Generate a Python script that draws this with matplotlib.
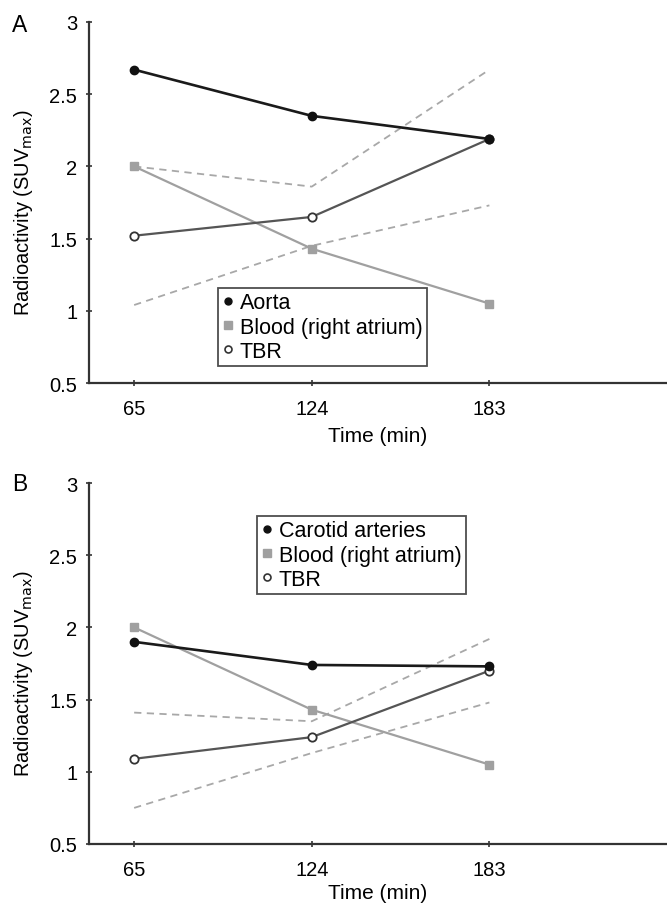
import matplotlib
matplotlib.use("Agg")
import matplotlib.pyplot as plt
from matplotlib.lines import Line2D

plt.rcParams['font.family'] = ['Liberation Sans', 'DejaVu Sans']

times = [65, 124, 183]
time_labels = ['65', '124', '183']

# Panel A
aorta = [2.67, 2.35, 2.19]
blood_a = [2.00, 1.43, 1.05]
tbr_a = [1.52, 1.65, 2.19]
dash_upper_a = [2.00, 1.86, 2.67]
dash_lower_a = [1.04, 1.45, 1.73]

# Panel B
carotid = [1.90, 1.74, 1.73]
blood_b = [2.00, 1.43, 1.05]
tbr_b = [1.09, 1.24, 1.70]
dash_upper_b = [1.41, 1.35, 1.92]
dash_lower_b = [0.75, 1.13, 1.48]

yticks = [0.5, 1, 1.5, 2, 2.5, 3]
ytick_labels = ['0.5', '1', '1.5', '2', '2.5', '3']

W, H = 667, 904
fig = plt.figure(figsize=(W / 100, H / 100), dpi=100)

def make_ax(top_px, bottom_px):
    left = 89 / W
    right = 667 / W
    return fig.add_axes([left, 1 - bottom_px / H, right - left, (bottom_px - top_px) / H])

axA = make_ax(23, 384)
axB = make_ax(484, 845)

def draw(ax, main, blood, tbr, du, dl, main_name, legend_loc, xlabel_top):
    dash_kw = dict(color='#a8a8a8', lw=1.3, ls=(0, (4, 3)), zorder=1)
    ax.plot(times, du, **dash_kw)
    ax.plot(times, dl, **dash_kw)
    ax.plot(times, blood, color='#a0a0a0', lw=1.6, marker='s', ms=6,
            mfc='#a0a0a0', mec='#a0a0a0', zorder=2)
    ax.plot(times, tbr, color='#555555', lw=1.6, marker='o', ms=6,
            mfc='white', mec='#333333', mew=1.3, zorder=3)
    ax.plot(times, main, color='#1a1a1a', lw=1.9, marker='o', ms=6,
            mfc='#111111', mec='#111111', zorder=4)
    ax.set_xlim(50, 242)
    ax.set_ylim(0.5, 3)
    ax.set_xticks(times)
    ax.set_xticklabels(time_labels)
    ax.set_yticks(yticks)
    ax.set_yticklabels(ytick_labels)
    for s in ['top', 'right']:
        ax.spines[s].set_visible(False)
    for s in ['left', 'bottom']:
        ax.spines[s].set_color('#333333')
        ax.spines[s].set_linewidth(1.6)
    ax.tick_params(axis='both', direction='inout', length=5, width=1.2,
                   color='#333333', labelsize=14.5)
    ax.tick_params(axis='x', pad=9)
    ax.tick_params(axis='y', pad=6)
    ax.set_xlabel('Time (min)', fontsize=15, va='top')
    ax.xaxis.set_label_coords(0.5, -xlabel_top / 361)
    ax.set_ylabel(r'Radioactivity (SUV$_{\mathrm{max}}$)', fontsize=14.5)
    ax.yaxis.set_label_coords(-(89 - 35) / 578, 0.475)
    handles = [
        Line2D([], [], ls='none', marker='o', ms=5, mfc='#111111', mec='#111111', label=main_name),
        Line2D([], [], ls='none', marker='s', ms=5.5, mfc='#a0a0a0', mec='#a0a0a0', label='Blood (right atrium)'),
        Line2D([], [], ls='none', marker='o', ms=5, mfc='white', mec='#333333', mew=1.2, label='TBR'),
    ]
    leg = ax.legend(handles=handles, loc='upper left', bbox_to_anchor=legend_loc,
                    fontsize=15.5, frameon=True, fancybox=False, handlelength=0.5,
                    handletextpad=0.3, borderpad=0.2, labelspacing=0.15,
                    borderaxespad=0)
    leg.get_frame().set_edgecolor('#222222')
    leg.get_frame().set_linewidth(1.3)

draw(axA, aorta, blood_a, tbr_a, dash_upper_a, dash_lower_a, 'Aorta',
     ((218 - 89) / 578, (384 - 289) / 361), 427 - 384)
draw(axB, carotid, blood_b, tbr_b, dash_upper_b, dash_lower_b, 'Carotid arteries',
     ((257 - 89) / 578, (845 - 517) / 361), 884 - 845)

fig.text(12 / W, 1 - 26 / H, 'A', fontsize=16.5, va='center', ha='left')
fig.text(12 / W, 1 - 485 / H, 'B', fontsize=16.5, va='center', ha='left')

fig.savefig('out.png', dpi=100)
